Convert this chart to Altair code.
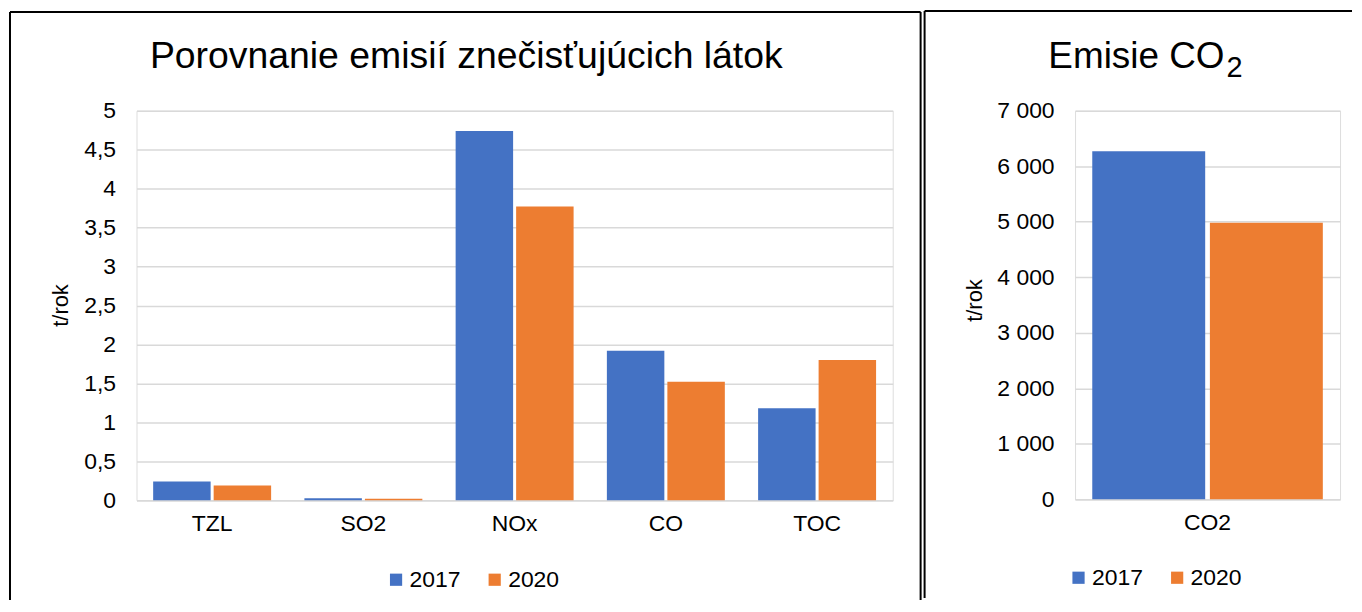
import altair as alt
import pandas as pd

# ---- data ----
pollutants = ["TZL", "SO2", "NOx", "CO", "TOC"]
values_2017 = [0.24, 0.025, 4.74, 1.92, 1.18]
values_2020 = [0.19, 0.02, 3.77, 1.52, 1.80]
co2_labels = ["CO2"]
co2_2017 = [6270]
co2_2020 = [4980]
years = ["2017", "2020"]
colors = ["#4472C4", "#ED7D31"]
left_ticks = [0, 0.5, 1, 1.5, 2, 2.5, 3, 3.5, 4, 4.5, 5]
right_ticks = [0, 1000, 2000, 3000, 4000, 5000, 6000, 7000]
left_title = "Porovnanie emisií znečisťujúcich látok"
right_title_main = "Emisie CO"
right_title_sub = "2"

FONT = "Liberation Sans"
LFS = 23
GRID = "#d9d9d9"

df_left = pd.DataFrame({
    "cat": pollutants * 2,
    "year": [years[0]] * len(pollutants) + [years[1]] * len(pollutants),
    "value": values_2017 + values_2020,
})
df_right = pd.DataFrame({
    "cat": co2_labels * 2,
    "year": years,
    "value": co2_2017 + co2_2020,
})
one = pd.DataFrame({"k": [0]})


def legend(x, y):
    return alt.Legend(title=None, orient="none", legendX=x, legendY=y,
                      direction="horizontal", symbolType="square", symbolSize=150,
                      symbolStrokeWidth=0, labelFontSize=LFS, labelOffset=2,
                      columnPadding=22, padding=0, labelColor="black", labelFont=FONT)


def yaxis(values, expr, tx, ty):
    return alt.Axis(values=values, title="t/rok", labelExpr=expr, domain=False, ticks=False,
                    gridColor=GRID, gridWidth=1.5, labelPadding=21, labelFontSize=LFS,
                    titleFontSize=22, titleFontWeight="normal", titleX=tx, titleY=ty,
                    titleBaseline="middle", titleAlign="center", labelColor="black",
                    titleColor="black", labelFont=FONT, titleFont=FONT)


def xaxis():
    return alt.Axis(title=None, labelAngle=0, ticks=False, domainColor=GRID, domainWidth=1.5,
                    labelPadding=12, labelFontSize=LFS, labelColor="black", labelFont=FONT,
                    grid=False)


def rule(x, y, x2=None, y2=None):
    enc = {"x": alt.value(x), "y": alt.value(y)}
    if x2 is not None:
        enc["x2"] = alt.value(x2)
    if y2 is not None:
        enc["y2"] = alt.value(y2)
    return alt.Chart(one).mark_rule(color="black", strokeWidth=2).encode(**enc)


# ---- left panel ----
left_bars = alt.Chart(df_left).mark_bar().encode(
    x=alt.X("cat:N", sort=pollutants,
            scale=alt.Scale(paddingInner=0.22, paddingOuter=0.11), axis=xaxis()),
    xOffset=alt.XOffset("year:N", sort=years, scale=alt.Scale(paddingInner=0.05)),
    y=alt.Y("value:Q", scale=alt.Scale(domain=[0, 5], nice=False),
            axis=yaxis(left_ticks, "replace(datum.value + '', '.', ',')", -76, 195)),
    color=alt.Color("year:N", scale=alt.Scale(domain=years, range=colors), legend=legend(249, 459)),
)
left_text = alt.Chart(one).mark_text(text=left_title, fontSize=37.5, font=FONT, align="center",
                                     baseline="alphabetic", color="black").encode(
    x=alt.value(331), y=alt.value(-43))
left = alt.layer(
    left_bars, left_text,
    rule(-127, -99, x2=787),
    rule(-127, -99, y2=491),
    rule(787, -99, y2=491),
).properties(width=759, height=391)

# ---- right panel ----
right_bars = alt.Chart(df_right).mark_bar().encode(
    x=alt.X("cat:N", scale=alt.Scale(paddingInner=0.13, paddingOuter=0.065), axis=xaxis()),
    xOffset=alt.XOffset("year:N", sort=years, scale=alt.Scale(paddingInner=0.04)),
    y=alt.Y("value:Q", scale=alt.Scale(domain=[0, 7000], nice=False),
            axis=yaxis(right_ticks, "replace(format(datum.value, ','), ',', ' ')", -101, 190)),
    color=alt.Color("year:N", scale=alt.Scale(domain=years, range=colors), legend=legend(-8, 457)),
)
right_text = alt.Chart(one).mark_text(text=right_title_main, fontSize=37, font=FONT, align="right",
                                      baseline="alphabetic", color="black").encode(
    x=alt.value(150), y=alt.value(-43))
right_sub = alt.Chart(one).mark_text(text=right_title_sub, fontSize=29, font=FONT, align="left",
                                     baseline="alphabetic", color="black").encode(
    x=alt.value(152), y=alt.value(-34))
right = alt.layer(
    right_bars, right_text, right_sub,
    rule(-151, -100, x2=278),
    rule(-151, -100, y2=489),
).properties(width=266, height=390)

chart = alt.hconcat(left, right, spacing=0).resolve_scale(
    color="independent", x="independent", y="independent", xOffset="independent"
).resolve_legend(color="independent").properties(
    padding={"left": 0, "top": 0, "right": 0, "bottom": 0}
).configure_view(stroke=None).configure(font=FONT)

chart.save("out.html", embed_options={"renderer": "svg", "actions": False})
